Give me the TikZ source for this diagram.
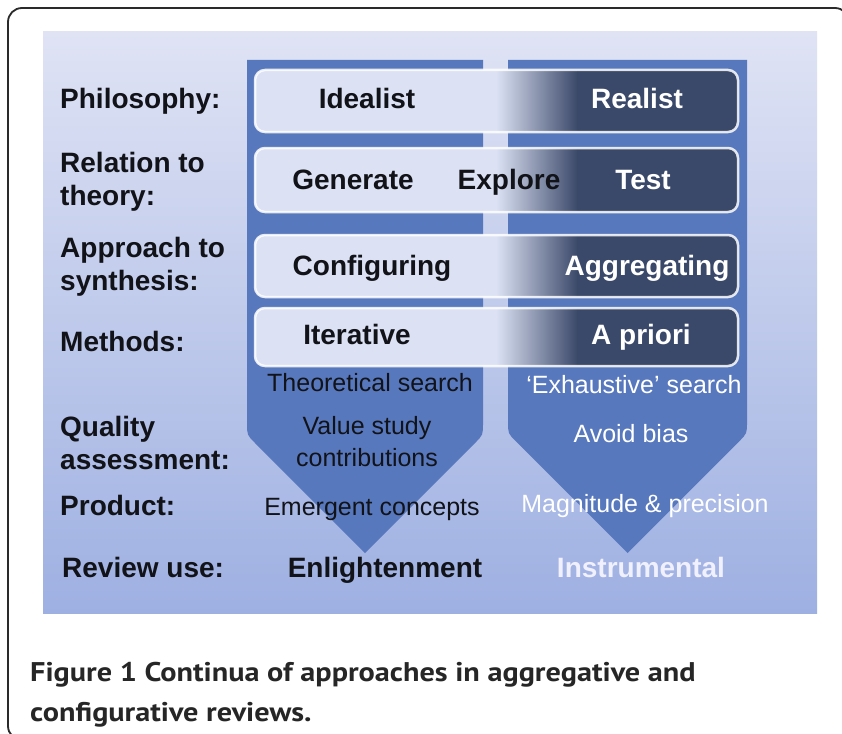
\documentclass[tikz,border=0pt]{standalone}
\usepackage{fontspec}
\setmainfont{Liberation Sans}
\newfontfamily\capfont[FakeStretch=1.12]{PT Sans}
\definecolor{panelTop}{HTML}{DFE3F4}
\definecolor{panelBot}{HTML}{9EB0E2}
\definecolor{colblue}{HTML}{5878BE}
\definecolor{barlight}{HTML}{DCE2F4}
\definecolor{bardark}{HTML}{3A4869}
\definecolor{frameC}{HTML}{2A2A2A}
\definecolor{inkC}{HTML}{111318}
\definecolor{capC}{HTML}{262626}
\newcommand{\drawbar}[2]{%
  \begin{scope}
    \clip[rounded corners=10] (255,#1) rectangle (738,#2);
    \fill[barlight] (255,#1) rectangle (497,#2);
    \shade[left color=barlight, right color=bardark] (496,#1) rectangle (578,#2);
    \fill[bardark] (577,#1) rectangle (738,#2);
  \end{scope}
  \draw[white, opacity=0.85, line width=2.5, rounded corners=10] (255,#1) rectangle (738,#2);}
\begin{document}
\begin{tikzpicture}[x=1pt,y=-1pt,
  lab/.style={font=\fontsize{28}{33}\selectfont\bfseries, text=inkC, inner sep=0, align=left},
  bartxt/.style={font=\fontsize{28}{33}\selectfont\bfseries, inner sep=0, anchor=base},
  coltxt/.style={font=\fontsize{25}{32}\selectfont, inner sep=0, align=center},
  usetxt/.style={font=\fontsize{28}{33}\selectfont\bfseries, inner sep=0, anchor=base}]
\clip (0,0) rectangle (842,733);
\fill[white] (0,0) rectangle (842,733);
% frame
\draw[frameC, line width=1.8, rounded corners=14] (8,8) rectangle (849,740);
% panel
\shade[top color=panelTop, bottom color=panelBot] (43,32) rectangle (817,613);
% chevron columns
\fill[colblue] (247,60) -- (483,60) -- (483,423) .. controls (483,435) .. (475,443)
  -- (365,553) -- (255,443) .. controls (247,435) .. (247,423) -- cycle;
\fill[colblue] (508,60) -- (747,60) -- (747,421.5) .. controls (747,433.5) .. (739,441.5)
  -- (627.5,553) -- (516,441.5) .. controls (508,433.5) .. (508,421.5) -- cycle;
% bars
\drawbar{70}{132}
\drawbar{148}{212}
\drawbar{235}{297}
\drawbar{308}{366}
% row labels
\node[lab, anchor=base west] (lphil) at (60,108) {Philosophy:};
\node[lab, anchor=north west] (lrel) at (60,152.5) {Relation to\\theory:};
\node[lab, anchor=north west] (lapp) at (60,237.5) {Approach to\\synthesis:};
\node[lab, anchor=base west] (lmeth) at (60,351) {Methods:};
\node[lab, anchor=north west] (lqual) at (60,416.5) {Quality\\assessment:};
\node[lab, anchor=base west] (lprod) at (60,515) {Product:};
\node[lab, anchor=base west] (luse) at (62,577) {Review use:};
% bar texts
\node[bartxt, text=inkC] (ideal) at (367,108) {Idealist};
\node[bartxt, text=white] (real) at (637,108) {Realist};
\node[bartxt, text=inkC] (gen) at (353,189) {Generate};
\node[bartxt, text=inkC] (expl) at (509,189) {Explore};
\node[bartxt, text=white] (test) at (643,189) {Test};
\node[bartxt, text=inkC] (conf) at (372,275) {Configuring};
\node[bartxt, text=white] (aggr) at (647,275) {Aggregating};
\node[bartxt, text=inkC] (iter) at (357,344) {Iterative};
\node[bartxt, text=white] (apri) at (641,344) {A priori};
% column texts
\node[coltxt, anchor=base, text=inkC] (theo) at (370,391) {Theoretical search};
\node[coltxt, anchor=base, text=white] (exha) at (634,393) {‘Exhaustive’ search};
\node[coltxt, anchor=north, text=inkC] (valu) at (367,416) {Value study\\contributions};
\node[coltxt, anchor=base, text=white] (avoi) at (631,442) {Avoid bias};
\node[coltxt, anchor=base, text=inkC] (emer) at (372,515) {Emergent concepts};
\node[coltxt, anchor=base, text=white] (magn) at (645,512) {Magnitude \& precision};
\node[usetxt, text=inkC] (enli) at (385,577) {Enlightenment};
\node[usetxt, text=white!94!blue] (inst) at (641,577) {Instrumental};
% caption
\node[font=\capfont\fontsize{27}{40}\selectfont\bfseries, text=capC, inner sep=0,
  anchor=north west, align=left] (cap) at (30,662)
  {Figure 1 Continua of approaches in aggregative and\\configurative reviews.};
\end{tikzpicture}
\end{document}
